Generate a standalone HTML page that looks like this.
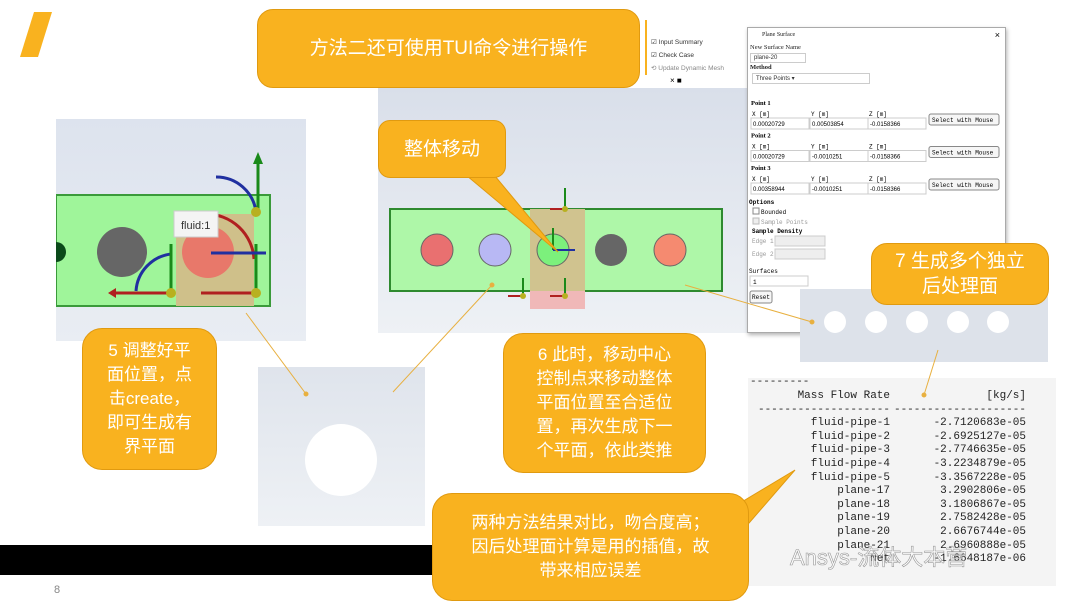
<!DOCTYPE html>
<html><head><meta charset="utf-8"><style>
*{margin:0;padding:0;box-sizing:border-box}
body{width:1080px;height:608px;background:#fff;position:relative;overflow:hidden;font-family:"Liberation Sans","Noto Sans CJK SC",sans-serif}
.a{position:absolute}
.co{position:absolute;background:#f9b21f;border:1.5px solid #e09a10;border-radius:16px;color:#fff;text-align:center;display:flex;align-items:center;justify-content:center;font-size:19px;line-height:25px}
.dl{font-family:"Liberation Serif",serif;font-size:6.5px;color:#222}
.in{position:absolute;border:1px solid #ccc;background:#fff;font-size:6px;padding:1px 3px;font-family:"Liberation Sans",sans-serif;color:#333}
.tc{position:absolute;font-family:"Liberation Mono",monospace;font-size:11px;line-height:13.6px;color:#222;text-align:right;white-space:pre}
</style></head><body>
<!-- black bar -->
<div class="a" style="left:0;top:545px;width:760px;height:30px;background:#000"></div>
<div class="a" style="left:54px;top:584px;font-size:11px;color:#888">8</div>
<!-- logo slash -->
<svg class="a" style="left:20px;top:10px" width="40" height="50"><polygon points="14,2 32,2 18,47 0,47" fill="#f9b21f"/></svg>

<!-- left image -->
<div class="a" style="left:56px;top:119px;width:250px;height:222px;background:linear-gradient(#dde3ee,#e9edf3)"></div>
<svg class="a" style="left:56px;top:119px" width="250" height="222">
<rect x="0" y="76" width="214" height="111" fill="#9ff59a" stroke="#3a9a3a" stroke-width="2"/>
<circle cx="0" cy="133" r="10" fill="#0b4a1a"/>
<circle cx="66" cy="133" r="25" fill="#666"/>
<rect x="120" y="95" width="78" height="92" fill="#cfc08a"/>
<circle cx="152" cy="133" r="26" fill="#e8786a"/>
<path d="M150 95 A48 48 0 0 1 198 140" stroke="#b02020" stroke-width="3" fill="none"/>
<path d="M80 172 A40 40 0 0 1 115 135" stroke="#2030a0" stroke-width="3" fill="none"/>
<path d="M200 93 A40 40 0 0 0 160 58" stroke="#2030a0" stroke-width="3" fill="none"/>
<line x1="202" y1="93" x2="202" y2="40" stroke="#1a8a1a" stroke-width="3"/><polygon points="197,45 207,45 202,33" fill="#1a8a1a"/>
<line x1="115" y1="175" x2="115" y2="125" stroke="#1a8a1a" stroke-width="3"/>
<line x1="200" y1="175" x2="200" y2="125" stroke="#1a8a1a" stroke-width="3"/>
<line x1="60" y1="174" x2="115" y2="174" stroke="#b02020" stroke-width="3"/><polygon points="60,169 60,179 52,174" fill="#b02020"/>
<line x1="145" y1="174" x2="200" y2="174" stroke="#b02020" stroke-width="3"/>
<line x1="155" y1="134" x2="210" y2="134" stroke="#2030a0" stroke-width="3"/>
<circle cx="115" cy="174" r="5" fill="#b8b020"/><circle cx="200" cy="174" r="5" fill="#b8b020"/><circle cx="200" cy="93" r="5" fill="#b8b020"/>
<rect x="118" y="92" width="44" height="26" fill="#f4f4f4" stroke="#ccc"/>
<text x="125" y="110" font-size="11" fill="#333" font-family="Liberation Sans">fluid:1</text>
</svg>

<!-- middle image -->
<div class="a" style="left:378px;top:88px;width:372px;height:245px;background:linear-gradient(#d9dfea,#eef1f5)"></div>
<svg class="a" style="left:378px;top:88px" width="372" height="245">
<rect x="12" y="121" width="332" height="82" fill="#aef7a8" stroke="#2f8a2f" stroke-width="2"/>
<rect x="152" y="121" width="55" height="82" fill="#d0c38f"/>
<rect x="152" y="203" width="55" height="18" fill="#f0b8b8"/>
<circle cx="59" cy="162" r="16" fill="#e97070" stroke="#666"/>
<circle cx="117" cy="162" r="16" fill="#b8b8f4" stroke="#666"/>
<circle cx="175" cy="162" r="16" fill="#7cf07c" stroke="#666"/>
<circle cx="233" cy="162" r="16" fill="#666"/>
<circle cx="292" cy="162" r="16" fill="#f58a70" stroke="#666"/>
<line x1="187" y1="121" x2="187" y2="100" stroke="#1a8a1a" stroke-width="2"/>
<line x1="187" y1="208" x2="187" y2="190" stroke="#1a8a1a" stroke-width="2"/>
<line x1="145" y1="208" x2="145" y2="190" stroke="#1a8a1a" stroke-width="2"/>
<line x1="175" y1="162" x2="175" y2="140" stroke="#1a8a1a" stroke-width="2"/>
<line x1="175" y1="162" x2="197" y2="162" stroke="#2030a0" stroke-width="2"/>
<line x1="130" y1="208" x2="145" y2="208" stroke="#b02020" stroke-width="2"/>
<line x1="172" y1="208" x2="187" y2="208" stroke="#b02020" stroke-width="2"/>
<line x1="172" y1="121" x2="187" y2="121" stroke="#b02020" stroke-width="2"/>
<circle cx="187" cy="121" r="3" fill="#b8b020"/><circle cx="187" cy="208" r="3" fill="#b8b020"/><circle cx="145" cy="208" r="3" fill="#b8b020"/>
</svg>

<!-- toolbar strip -->
<div class="a" style="left:645px;top:20px;width:110px;height:55px;background:#fff;border-left:2px solid #f9b21f"></div>
<div class="a" style="left:651px;top:36px;font-size:6.5px;color:#333;line-height:13px">☑ Input Summary<br>☑ Check Case<br><span style="color:#888">⟲ Update Dynamic Mesh</span></div>
<div class="a" style="left:670px;top:76px;width:80px;height:12px;background:#fff;font-size:8px">× ■</div>

<!-- dialog -->
<div class="a" style="left:747px;top:27px;width:259px;height:306px;background:#fff;border:1px solid #aaa;box-shadow:1px 2px 4px rgba(0,0,0,.3)">
<div class="a dl" style="left:14px;top:4px;font-size:6px">Plane Surface</div>
<div class="a" style="right:5px;top:2px;font-size:9px">×</div>
<div class="a dl" style="left:2px;top:16px">New Surface Name</div>
<div class="in" style="left:2px;top:25px;width:56px">plane-20</div>
<div class="a dl" style="left:2px;top:36px;font-weight:bold">Method</div>
<div class="in" style="left:4px;top:45px;width:118px">Three Points ▾</div>
</div>
<svg class="a" style="left:747px;top:27px" width="259" height="306" font-family="Liberation Mono" font-size="6">
<g font-family="Liberation Serif" font-weight="bold" font-size="6.5"><text x="4" y="78">Point 1</text><text x="4" y="110.5">Point 2</text><text x="4" y="143">Point 3</text></g>
<g id="r"><text x="5" y="89">X [m]</text><text x="64" y="89">Y [m]</text><text x="122" y="89">Z [m]</text>
<rect x="4" y="91" width="58" height="11" fill="#fff" stroke="#ccc"/><rect x="63" y="91" width="58" height="11" fill="#fff" stroke="#ccc"/><rect x="121" y="91" width="58" height="11" fill="#fff" stroke="#ccc"/>
<rect x="182" y="87" width="70" height="11" fill="#f6f6f6" stroke="#888" rx="2"/><text x="185" y="95">Select with Mouse</text></g>
<text x="6" y="99" font-family="Liberation Sans">0.00020729</text><text x="65" y="99" font-family="Liberation Sans">0.00503854</text><text x="123" y="99" font-family="Liberation Sans">-0.0158366</text>
<g transform="translate(0,32.5)"><use href="#r"/><text x="6" y="99" font-family="Liberation Sans">0.00020729</text><text x="65" y="99" font-family="Liberation Sans">-0.0010251</text><text x="123" y="99" font-family="Liberation Sans">-0.0158366</text></g>
<g transform="translate(0,65)"><use href="#r"/><text x="6" y="99" font-family="Liberation Sans">0.00358944</text><text x="65" y="99" font-family="Liberation Sans">-0.0010251</text><text x="123" y="99" font-family="Liberation Sans">-0.0158366</text></g>
<text x="2" y="177" font-weight="bold">Options</text>
<rect x="6" y="181" width="6" height="6" fill="#fff" stroke="#888"/><text x="14" y="187">Bounded</text>
<rect x="6" y="191" width="6" height="6" fill="#eee" stroke="#bbb"/><text x="14" y="197" fill="#999">Sample Points</text>
<text x="5" y="206" font-weight="bold">Sample Density</text>
<text x="5" y="216" fill="#999">Edge 1</text><rect x="28" y="209" width="50" height="10" fill="#eee" stroke="#ccc"/>
<text x="5" y="229" fill="#999">Edge 2</text><rect x="28" y="222" width="50" height="10" fill="#eee" stroke="#ccc"/>
<text x="2" y="246">Surfaces</text><rect x="3" y="249" width="58" height="10" fill="#fff" stroke="#ccc"/><text x="6" y="257">1</text>
<rect x="3" y="264" width="22" height="12" fill="#f6f6f6" stroke="#888" rx="2"/><text x="5" y="272">Reset</text>
</svg>

<!-- dots panel -->
<div class="a" style="left:800px;top:289px;width:248px;height:73px;background:#dde2ea"></div>
<svg class="a" style="left:800px;top:289px" width="248" height="73"><g fill="#fff"><circle cx="35" cy="33" r="11"/><circle cx="76" cy="33" r="11"/><circle cx="117" cy="33" r="11"/><circle cx="158" cy="33" r="11"/><circle cx="198" cy="33" r="11"/></g></svg>

<!-- small white circle panel -->
<div class="a" style="left:258px;top:367px;width:167px;height:159px;background:linear-gradient(#dfe4ec,#eef1f5)"></div>
<div class="a" style="left:305px;top:424px;width:72px;height:72px;border-radius:50%;background:#fff"></div>

<!-- table -->
<div class="a" style="left:748px;top:378px;width:308px;height:208px;background:#f4f4f4"></div>
<div class="tc" style="left:750px;top:376px;text-align:left">---------</div>
<div class="tc" style="left:700px;width:190px;top:390px">Mass Flow Rate
--------------------
fluid-pipe-1
fluid-pipe-2
fluid-pipe-3
fluid-pipe-4
fluid-pipe-5
plane-17
plane-18
plane-19
plane-20
plane-21
Net</div>
<div class="tc" style="left:836px;width:190px;top:390px">[kg/s]
--------------------
-2.7120683e-05
-2.6925127e-05
-2.7746635e-05
-3.2234879e-05
-3.3567228e-05
3.2902806e-05
3.1806867e-05
2.7582428e-05
2.6676744e-05
2.6960888e-05
-1.6648187e-06</div>
<div class="a" style="left:790px;top:540px;font-size:22px;color:rgba(255,255,255,.6);-webkit-text-stroke:0.6px #999">Ansys-流体大本营</div>

<!-- connector lines & tails -->
<svg class="a" style="left:0;top:0" width="1080" height="608">
<g stroke="#e8b040" stroke-width="1" fill="#e8b040">
<line x1="246" y1="313" x2="306" y2="394"/><circle cx="306" cy="394" r="2"/>
<line x1="492" y1="285" x2="393" y2="392"/><circle cx="492" cy="285" r="2"/>
<line x1="685" y1="285" x2="812" y2="322"/><circle cx="812" cy="322" r="2"/>
<line x1="938" y1="350" x2="924" y2="395"/><circle cx="924" cy="395" r="2"/>
</g>
<polygon points="460,170 490,170 558,252" fill="#f9b21f" stroke="#e09a10"/>
<polygon points="720,515 730,545 795,470" fill="#f9b21f" stroke="#e09a10"/>
</svg>

<!-- callouts -->
<div class="co" style="left:257px;top:9px;width:383px;height:79px;font-size:19px">方法二还可使用TUI命令进行操作</div>
<div class="co" style="left:378px;top:120px;width:128px;height:58px;border-radius:12px">整体移动</div>
<div class="co" style="left:871px;top:243px;width:178px;height:62px;font-size:19px">7 生成多个独立<br>后处理面</div>
<div class="co" style="left:82px;top:328px;width:135px;height:142px;border-radius:20px;font-size:17px;line-height:24px">5 调整好平<br>面位置，点<br>击create，<br>即可生成有<br>界平面</div>
<div class="co" style="left:503px;top:333px;width:203px;height:140px;border-radius:20px;font-size:17px;line-height:24px">6 此时，移动中心<br>控制点来移动整体<br>平面位置至合适位<br>置，再次生成下一<br>个平面，依此类推</div>
<div class="co" style="left:432px;top:493px;width:317px;height:108px;border-radius:20px;font-size:17px;line-height:24px">两种方法结果对比，吻合度高；<br>因后处理面计算是用的插值，故<br>带来相应误差</div>
</body></html>
